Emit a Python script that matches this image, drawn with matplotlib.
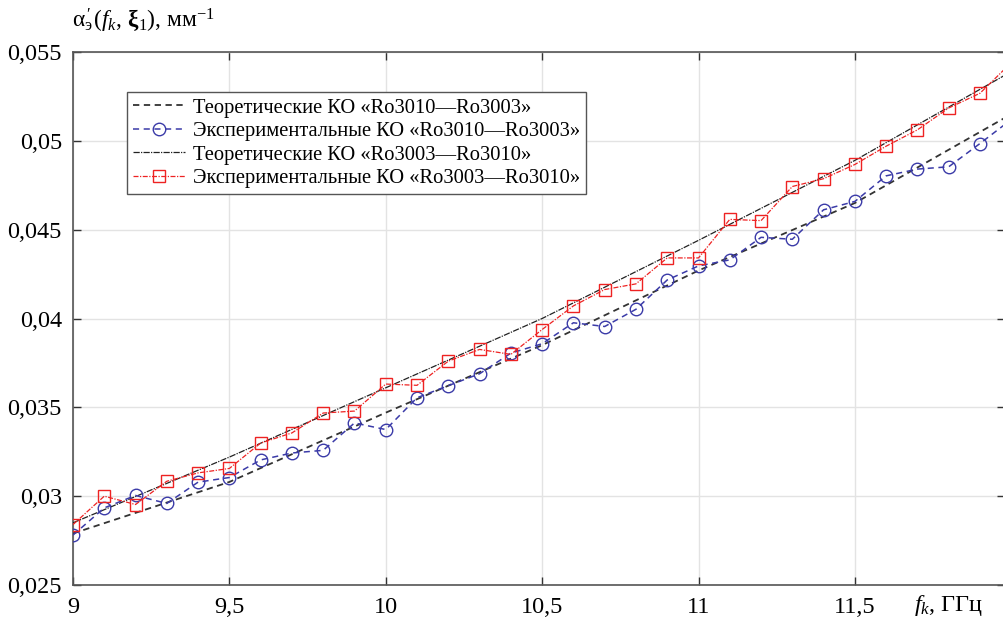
import matplotlib
matplotlib.use("Agg")
import matplotlib.pyplot as plt
import matplotlib.transforms as mtransforms

plt.rcParams['font.family'] = ['Liberation Serif', 'DejaVu Serif']
plt.rcParams['mathtext.fontset'] = 'custom'
plt.rcParams['mathtext.rm'] = 'Liberation Serif'
plt.rcParams['mathtext.it'] = 'Liberation Serif:italic'
plt.rcParams['mathtext.bf'] = 'Liberation Serif:bold'

# ---- data ----
freq_exp = [9.0, 9.1, 9.2, 9.3, 9.4, 9.5, 9.6, 9.7, 9.8, 9.9,
            10.0, 10.1, 10.2, 10.3, 10.4, 10.5, 10.6, 10.7, 10.8, 10.9,
            11.0, 11.1, 11.2, 11.3, 11.4, 11.5, 11.6, 11.7, 11.8, 11.9, 12.0]
exp_1003 = [0.02781, 0.02934, 0.03004, 0.02959, 0.03079, 0.03105, 0.03204, 0.03243, 0.03258, 0.03412,
            0.03375, 0.03554, 0.03622, 0.03689, 0.03805, 0.03858, 0.03976, 0.03955, 0.04052, 0.04217,
            0.04296, 0.04330, 0.04457, 0.04446, 0.04612, 0.04659, 0.04803, 0.04841, 0.04854, 0.04985, 0.05120]
exp_3010 = [0.02840, 0.03000, 0.02953, 0.03084, 0.03131, 0.03156, 0.03299, 0.03356, 0.03468, 0.03479,
            0.03631, 0.03624, 0.03760, 0.03826, 0.03798, 0.03938, 0.04071, 0.04163, 0.04195, 0.04341,
            0.04341, 0.04558, 0.04551, 0.04743, 0.04787, 0.04867, 0.04970, 0.05062, 0.05185, 0.05268, 0.05440]

freq_theor = [9.0, 9.5, 10.0, 10.5, 11.0, 11.5, 12.0]
theor_1003 = [0.0279, 0.0308, 0.0347, 0.0385, 0.0427, 0.0465, 0.0515]
theor_3010 = [0.0285, 0.0322, 0.0361, 0.0400, 0.0444, 0.0489, 0.0539]

x_ticks = [9, 9.5, 10, 10.5, 11, 11.5]
x_ticklabels = ["9", "9,5", "10", "10,5", "11", "11,5"]
y_ticks = [0.025, 0.03, 0.035, 0.04, 0.045, 0.05, 0.055]
y_ticklabels = ["0,025", "0,03", "0,035", "0,04", "0,045", "0,05", "0,055"]

labels = ["Теоретические КО «Ro3010—Ro3003»",
          "Экспериментальные КО «Ro3010—Ro3003»",
          "Теоретические КО «Ro3003—Ro3010»",
          "Экспериментальные КО «Ro3003—Ro3010»"]

# ---- figure ----
fig = plt.figure(figsize=(10.04, 6.23), dpi=100)
ax = fig.add_axes([0.0727, 0.061, 0.9283, 0.8555])

fs = 17.5
fs_leg = 14.8
ax.plot(freq_theor, theor_1003, color='#333333', linestyle=(0, (3.5, 2.5)), linewidth=1.3,
        label=labels[0], zorder=3)
ax.plot(freq_exp, exp_1003, color='#3b3ba8', linestyle=(0, (4, 3)), linewidth=1.1,
        marker='o', markersize=9, markerfacecolor='none', markeredgecolor='#3b3ba8',
        markeredgewidth=1.0, label=labels[1], zorder=4)
ax.plot(freq_theor, theor_3010, color='#222222', linestyle=(0, (5, 1, 1, 1)), linewidth=0.9,
        label=labels[2], zorder=3)
ax.plot(freq_exp, exp_3010, color='#ee2222', linestyle=(0, (4, 1.2, 1, 1.2)), linewidth=0.9,
        marker='s', markersize=8, markerfacecolor='none', markeredgecolor='#ee2222',
        markeredgewidth=1.0, label=labels[3], zorder=5)

ax.set_xlim(9, 11.98)
ax.set_ylim(0.025, 0.055)
ax.set_xticks(x_ticks)
ax.set_xticklabels(x_ticklabels, fontsize=fs)
ax.set_yticks(y_ticks)
ax.set_yticklabels(y_ticklabels, fontsize=fs)
ax.tick_params(axis='both', which='both', direction='in', length=6, width=1.0,
               top=True, right=True, color='#333333', pad=8)
ax.tick_params(axis='x', pad=9)
ax.grid(True, color='#e3e3e3', linewidth=1.0, zorder=0)
ax.set_axisbelow(True)
for s in ax.spines.values():
    s.set_color('#555555')
    s.set_linewidth(1.2)

leg = ax.legend(loc='upper left', bbox_to_anchor=(0.058, 0.925), fontsize=fs_leg,
                frameon=True, fancybox=False, edgecolor='#555555', framealpha=1,
                handlelength=2.5, handletextpad=0.4, borderpad=0.3, labelspacing=0.2,
                borderaxespad=0)
leg.get_frame().set_linewidth(1.0)

# x-axis label placed in the tick-label row
trans = mtransforms.blended_transform_factory(ax.transData, ax.transAxes)
ax.text(11.80, -0.038, r"$f_k$, ГГц", transform=trans, ha='center', va='center', fontsize=fs)

# y-axis label at top left
fig.text(0.072, 0.967, r"$\mathrm{\alpha}_{\mathrm{э}}\!\!'\,(f_k,\, \mathbf{\xi}_1)$, мм$^{-1}$",
         ha='left', va='center', fontsize=16.8)

fig.savefig("out.png", dpi=100)
